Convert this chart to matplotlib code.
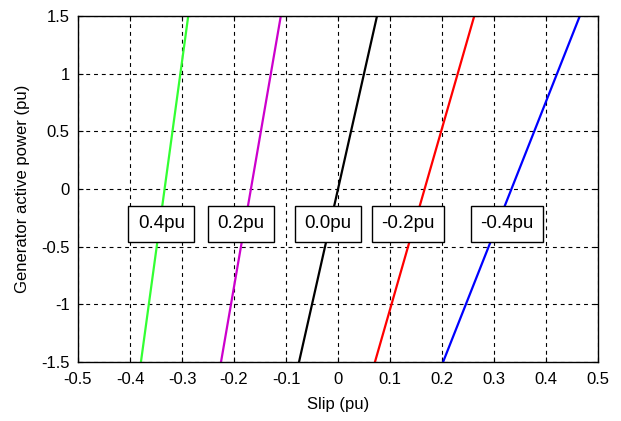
import numpy as np
import matplotlib.pyplot as plt

plt.rcParams['font.family'] = ['Liberation Sans', 'DejaVu Sans']

# slip at P=-1.5 and P=+1.5 for each rotor voltage case
labels = ['0.4pu', '0.2pu', '0.0pu', '-0.2pu', '-0.4pu']
colors = ['#33ff33', '#cc00cc', 'black', 'red', 'blue']
slip_lo = [-0.379, -0.225, -0.075, 0.071, 0.202]
slip_hi = [-0.288, -0.110, 0.075, 0.262, 0.465]
power = [-1.5, 1.5]

# label box positions (slip, power)
label_x = [-0.340, -0.187, -0.019, 0.135, 0.325]
label_y = [-0.30, -0.30, -0.30, -0.30, -0.30]

fig = plt.figure(figsize=(6.21, 4.21), dpi=100)
ax = fig.add_axes([0.1256, 0.140, 0.8374, 0.822])

for lo, hi, c in zip(slip_lo, slip_hi, colors):
    ax.plot([lo, hi], power, color=c, lw=1.6)

for lab, x, y in zip(labels, label_x, label_y):
    ax.text(x, y, lab, ha='center', va='center', fontsize=13.5,
            bbox=dict(boxstyle='square,pad=0.5', fc='white', ec='black', lw=1))

ax.set_xlim(-0.5, 0.5)
ax.set_ylim(-1.5, 1.5)
ax.set_xticks(np.arange(-0.5, 0.51, 0.1))
ax.set_xticklabels(['-0.5', '-0.4', '-0.3', '-0.2', '-0.1', '0', '0.1', '0.2', '0.3', '0.4', '0.5'])
ax.set_yticks(np.arange(-1.5, 1.51, 0.5))
ax.set_yticklabels(['-1.5', '-1', '-0.5', '0', '0.5', '1', '1.5'])
ax.tick_params(direction='in', top=True, right=True, labelsize=12)
ax.tick_params(axis='x', pad=7)
ax.tick_params(axis='y', pad=6)
ax.grid(True, color='black', linestyle=(0, (3.5, 3.5)), lw=0.8)
for s in ax.spines.values():
    s.set_linewidth(1)
ax.set_xlabel('Slip (pu)', fontsize=12, labelpad=7)
ax.set_ylabel('Generator active power (pu)', fontsize=12, labelpad=8)

fig.savefig('out.png', dpi=100)
